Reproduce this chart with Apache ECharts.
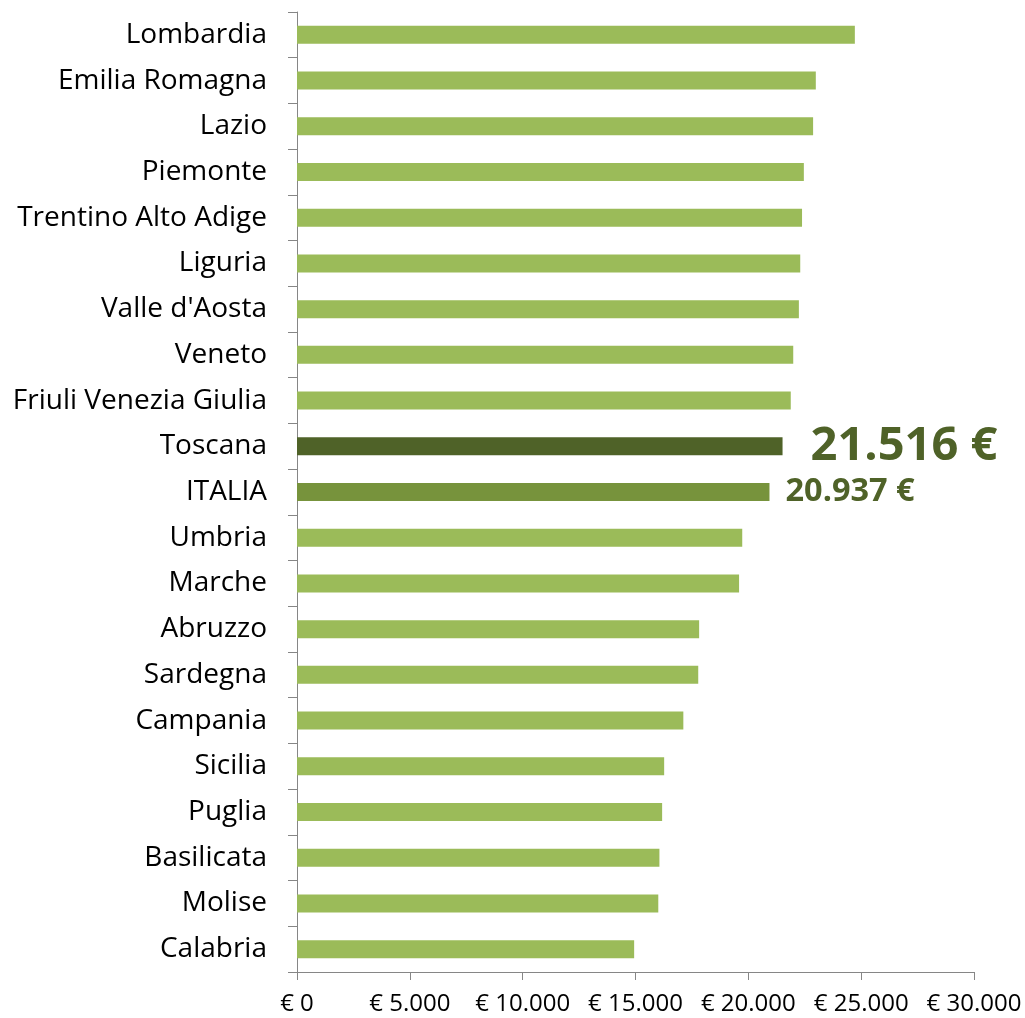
<!DOCTYPE html>
<html><head><meta charset="utf-8">
<script src="https://cdn.jsdelivr.net/npm/echarts@6/dist/echarts.min.js"></script>
<style>html,body{margin:0;padding:0;background:#fff}#c{width:1025px;height:1018px}</style>
</head><body><div id="c"></div>
<script>
const categories = ["Lombardia","Emilia Romagna","Lazio","Piemonte","Trentino Alto Adige","Liguria","Valle d'Aosta","Veneto","Friuli Venezia Giulia","Toscana","ITALIA","Umbria","Marche","Abruzzo","Sardegna","Campania","Sicilia","Puglia","Basilicata","Molise","Calabria"];
const values = [24720,22990,22870,22460,22380,22300,22240,21990,21880,21516,20937,19730,19590,17820,17780,17120,16270,16180,16060,16010,14940];
const xTicks = [0,5000,10000,15000,20000,25000,30000];

function fmt(n){return String(n).replace(/\B(?=(\d{3})+(?!\d))/g,'.');}
const FONT = 'Open Sans';
const data = values.map((v,i)=>{
  const c = categories[i];
  if(c==='Toscana') return {value:v,itemStyle:{color:'#4F6228'},label:{show:true,position:'right',distance:28,formatter:p=>fmt(p.value)+' €',fontSize:47,fontWeight:'bold',color:'#4F6228',fontFamily:FONT,padding:[4,0,0,0]}};
  if(c==='ITALIA') return {value:v,itemStyle:{color:'#77933C'},label:{show:true,position:'right',distance:16,formatter:p=>fmt(p.value)+' €',fontSize:32.5,fontWeight:'bold',color:'#4F6228',fontFamily:FONT,padding:[7,0,0,0]}};
  return {value:v};
});
const chart = echarts.init(document.getElementById('c'));
chart.setOption({
  animation:false,
  grid:{left:297,right:51,top:12,bottom:46,containLabel:false},
  xAxis:{type:'value',min:xTicks[0],max:xTicks[xTicks.length-1],interval:5000,
    axisLine:{show:true,lineStyle:{color:'#868686',width:1}},
    axisTick:{show:true,length:8,lineStyle:{color:'#868686'}},
    splitLine:{show:false},
    axisLabel:{formatter:v=>'€ '+fmt(v),fontSize:24,color:'#000',fontFamily:FONT,margin:20}},
  yAxis:{type:'category',data:categories,inverse:true,
    axisLine:{show:true,lineStyle:{color:'#868686',width:1}},
    axisTick:{show:true,length:9,lineStyle:{color:'#868686'}},
    axisLabel:{fontSize:28,color:'#000',fontFamily:FONT,margin:30,padding:[4,0,0,0]}},
  series:[{type:'bar',data:data,barWidth:18,itemStyle:{color:'#9BBB59'}}]
});
</script></body></html>
